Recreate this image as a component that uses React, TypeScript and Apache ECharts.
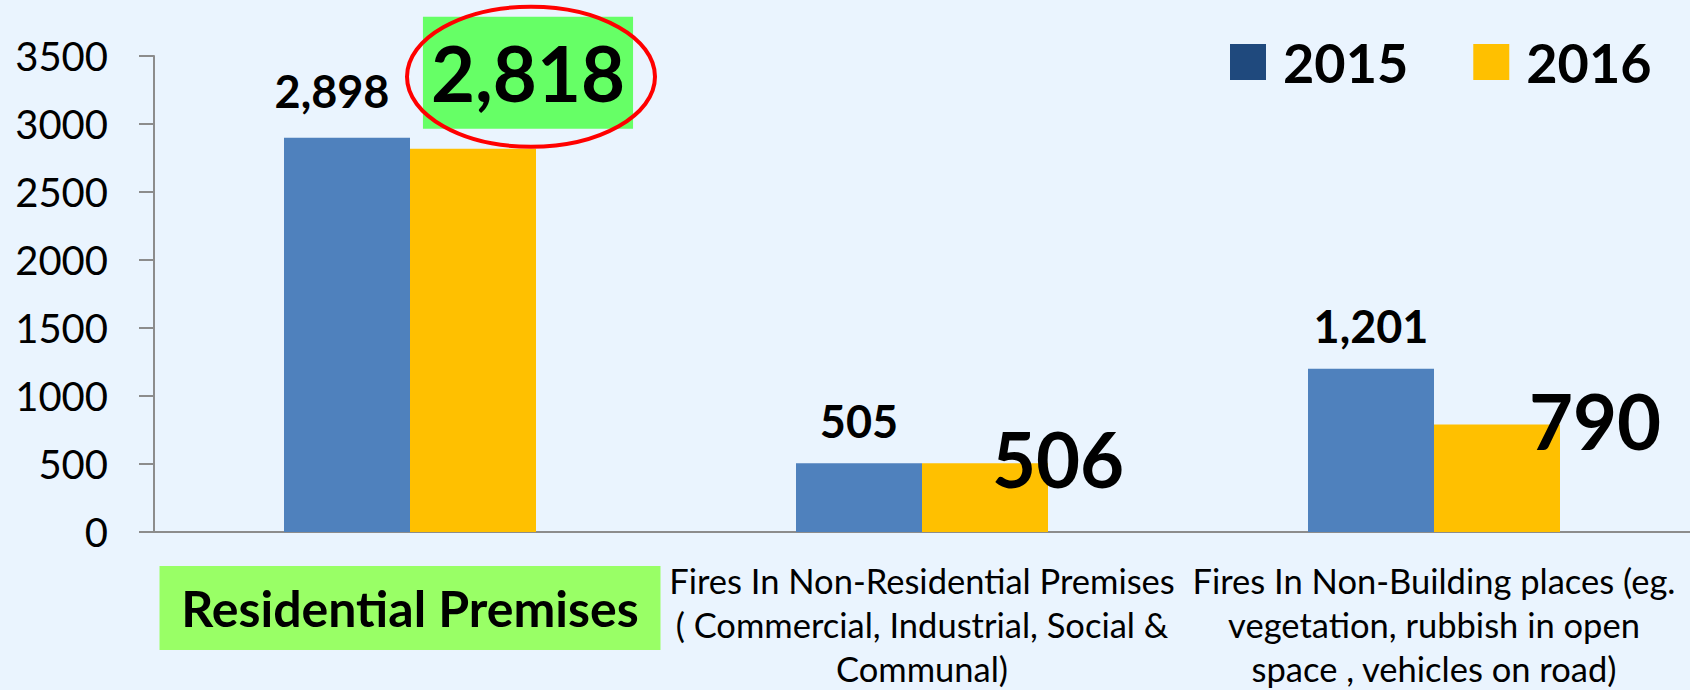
import React, { useEffect, useRef } from "react";
import * as echarts from "echarts";

const categories = [
  "Residential Premises",
  "Fires In Non-Residential Premises\n( Commercial, Industrial, Social &\nCommunal)",
  "Fires In Non-Building places (eg.\nvegetation, rubbish in open\nspace , vehicles on road)",
];
const seriesNames = ["2015", "2016"];
const values2015 = [2898, 505, 1201];
const values2016 = [2818, 506, 790];
const yMin = 0;
const yMax = 3500;
const yInterval = 500;

const FONT = 'Lato, "Open Sans", sans-serif';
const fmt = (v: number) => v.toLocaleString("en-US");

const label2015Styles: any[] = [{ offset: [-15, -4] }, {}, {}];

const label2016Styles: any[] = [
  {
    show: true,
    position: "top",
    distance: 20,
    offset: [55, 0],
    fontSize: 76,
    lineHeight: 76,
    fontWeight: "bold",
    backgroundColor: "#66FF66",
    padding: [18, 8],
  },
  { show: true, position: "top", distance: 0, offset: [73, 33], fontSize: 76, lineHeight: 76, fontWeight: "bold" },
  { show: true, position: "top", distance: 0, offset: [98, 34], fontSize: 76, lineHeight: 76, fontWeight: "bold" },
];

export default function App() {
  const ref = useRef<HTMLDivElement>(null);
  useEffect(() => {
    document.body.style.margin = "0";
    const chart = echarts.init(ref.current!, null, { renderer: "svg" });
    const axisGray = "#8C8C8C";
    chart.setOption({
      animation: false,
      backgroundColor: "#EAF4FE",
      textStyle: { fontFamily: FONT },
      grid: { left: 154, right: 0, top: 56, bottom: 158, containLabel: false },
      legend: {
        left: 1225,
        top: 30,
        itemWidth: 36,
        itemHeight: 36,
        itemGap: 65,
        icon: "rect",
        textStyle: { fontSize: 54, fontWeight: "bold", color: "#000", fontFamily: FONT, padding: [0, 0, 0, 12] },
        data: [
          { name: seriesNames[0], itemStyle: { color: "#1F497D" } },
          { name: seriesNames[1], itemStyle: { color: "#FFC000" } },
        ],
      },
      xAxis: {
        type: "category",
        data: categories.map((c, i) => (i === 0 ? { value: c, textStyle: { padding: [8, 0, 0, 0] } } : c)),
        axisLine: { lineStyle: { color: axisGray, width: 2 } },
        axisTick: { length: 12, lineStyle: { color: axisGray, width: 2 } },
        axisLabel: {
          interval: 0,
          margin: 26,
          fontSize: 34.5,
          lineHeight: 44,
          color: "#000",
          fontFamily: FONT,
          formatter: (v: string, i: number) => (i === 0 ? `{r|${v}}` : v),
          rich: {
            r: {
              fontSize: 50,
              fontWeight: "bold",
              fontFamily: FONT,
              color: "#000",
              backgroundColor: "#99FF66",
              width: 501,
              align: "center",
              lineHeight: 84,
              height: 84,
            },
          },
        },
      },
      yAxis: {
        type: "value",
        min: yMin,
        max: yMax,
        interval: yInterval,
        splitLine: { show: false },
        axisLine: { show: true, lineStyle: { color: axisGray, width: 2 } },
        axisTick: { show: true, length: 15, lineStyle: { color: axisGray, width: 2 } },
        axisLabel: { fontSize: 40, color: "#000", margin: 46, fontFamily: FONT, formatter: (v: number) => String(v) },
      },
      series: [
        {
          name: seriesNames[0],
          type: "bar",
          barWidth: 126,
          barGap: "0%",
          itemStyle: { color: "#4F81BD" },
          label: {
            show: true,
            position: "top",
            distance: 20,
            fontSize: 45,
            fontWeight: "bold",
            color: "#000",
            fontFamily: FONT,
            formatter: (p: any) => fmt(p.value),
          },
          data: values2015.map((v, i) => ({ value: v, label: label2015Styles[i] })),
        },
        {
          name: seriesNames[1],
          type: "bar",
          barWidth: 126,
          barGap: "0%",
          itemStyle: { color: "#FFC000" },
          label: {
            show: true,
            color: "#000",
            fontFamily: FONT,
            formatter: (p: any) => fmt(p.value),
          },
          data: values2016.map((v, i) => ({ value: v, label: label2016Styles[i] })),
        },
      ],
    });
    const p = chart.convertToPixel({ gridIndex: 0 }, [categories[0], values2016[0]]) as number[];
    chart.setOption({
      graphic: [
        {
          type: "ellipse",
          z: 100,
          shape: { cx: p[0] + 121, cy: p[1] - 72, rx: 124, ry: 70 },
          style: { fill: "none", stroke: "#FF0000", lineWidth: 4 },
        },
      ],
    });
    return () => chart.dispose();
  }, []);
  return <div ref={ref} style={{ position: "absolute", left: 0, top: 0, width: 1690, height: 690 }} />;
}
